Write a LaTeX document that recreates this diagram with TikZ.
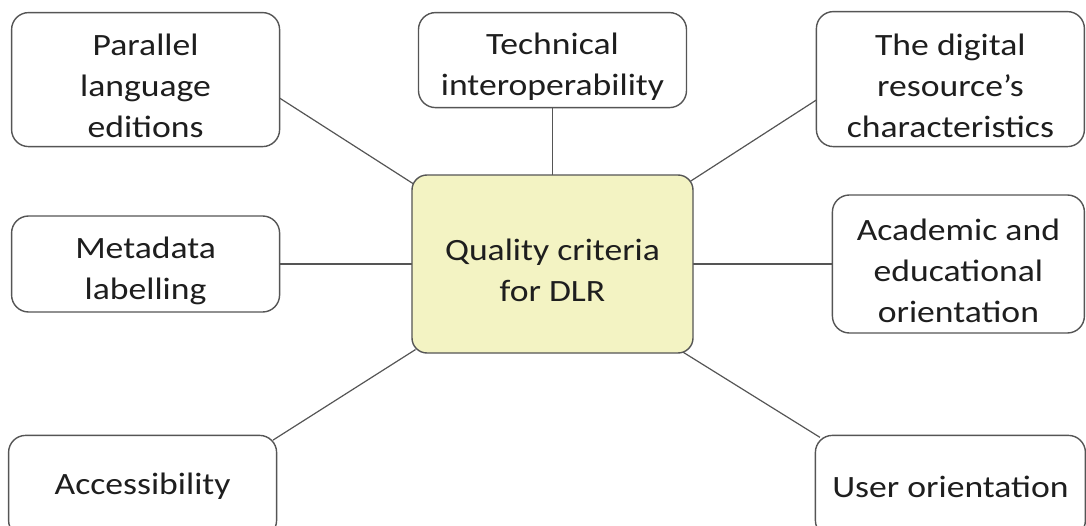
\documentclass[tikz,border=0pt]{standalone}
\usepackage{fontspec}
\setmainfont{Carlito}[FakeStretch=1.15]
\usepackage{tikz}
\usetikzlibrary{positioning, backgrounds}
\definecolor{corefill}{RGB}{243,243,195}
\definecolor{boxline}{RGB}{85,85,85}
\definecolor{inkgray}{RGB}{30,30,30}
\newcommand{\padtop}{\rule{0pt}{35pt}}
\tikzstyle{topic} = [rectangle, rounded corners=17pt, draw=boxline, line width=1.4pt, fill=white, minimum width=268pt, align=center, text=inkgray, font=\fontsize{31}{41}\selectfont, inner sep=2pt]
\tikzstyle{core}  = [topic, rounded corners=15pt, fill=corefill, minimum width=281pt, minimum height=178pt]
\tikzstyle{link}  = [line width=1.2pt, draw=boxline, shorten <=-5pt, shorten >=-5pt]

\begin{document}
\begin{tikzpicture}
    \useasboundingbox (-552.5pt,-261pt) rectangle (533.5pt,264pt);
    \clip (-552.5pt,-261pt) rectangle (533.5pt,264pt);

    \node (dlr) [core] {\padtop Quality criteria\\for DLR};
    \node (tech) [topic, minimum height=95pt, above=66pt of dlr] {\padtop Technical\\interoperability};
    \node (par) [topic, minimum height=134pt, above left=27pt and 131pt of dlr] {\padtop Parallel\\language\\editions};
    \node (dig) [topic, minimum height=135pt, above right=27pt and 122pt of dlr] {\padtop The digital\\resource’s\\characteristics};
    \node (meta) [topic, minimum height=96pt, left=131pt of dlr] {\padtop Metadata\\labelling};
    \node (acad) [topic, minimum width=252pt, minimum height=138pt, right=138pt of dlr] {\padtop Academic and\\educational\\orientation};
    \node (acc) [topic, minimum height=102pt, below left=81pt and 134pt of dlr] {Accessibility};
    \node (user) [topic, minimum width=270pt, minimum height=102pt, below right=81pt and 121pt of dlr] {User orientation};

    \begin{scope}[on background layer]
        \draw [link] (par.-8) -- (dlr.150);
        \draw [link] (tech) -- (dlr);
        \draw [link] (dig.189) -- (dlr.31);
        \draw [link] (meta) -- (dlr);
        \draw [link] (dlr) -- (acad);
        \draw [link] (acc.20) -- (dlr.212);
        \draw [link] (user.159) -- (dlr.-34);
    \end{scope}
\end{tikzpicture}
\end{document}
